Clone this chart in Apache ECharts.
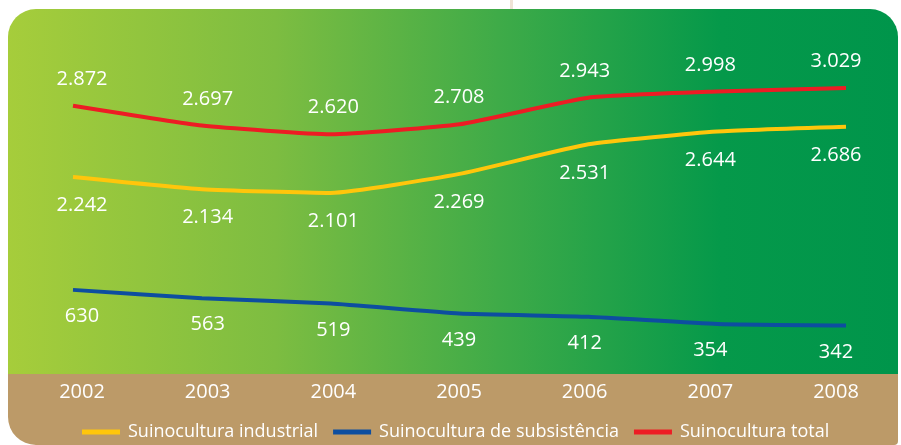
<!DOCTYPE html>
<html>
<head>
<meta charset="utf-8">
<script src="https://cdn.jsdelivr.net/npm/echarts@6/dist/echarts.min.js"></script>
<style>
  html, body { margin: 0; padding: 0; background: #fff; }
  #main { width: 901px; height: 445px; }
</style>
</head>
<body>
<div id="main"></div>
<script>
// dados
var anos = ["2002", "2003", "2004", "2005", "2006", "2007", "2008"];
var industrial = [2242, 2134, 2101, 2269, 2531, 2644, 2686];
var subsistencia = [630, 563, 519, 439, 412, 354, 342];
var total = [2872, 2697, 2620, 2708, 2943, 2998, 3029];

var FONT = "'Open Sans', 'Noto Sans', sans-serif";

// linhas: x de 73 a 846 ; rotulos dos anos: x de 82 a 836
var lineLeft = 73, lineRight = 846;
var labLeft = 82, labRight = 836;

function fmt(v) {
  if (v >= 1000) {
    return Math.floor(v / 1000) + "." + String(v % 1000).padStart(3, "0");
  }
  return String(v);
}

// empurra cada rotulo de valor para ficar alinhado com o ano
function withNudge(arr) {
  var n = arr.length - 1;
  return arr.map(function (v, i) {
    var lx = labLeft + (labRight - labLeft) * i / n;
    var px = lineLeft + (lineRight - lineLeft) * i / n;
    return { value: v, label: { offset: [lx - px, 0] } };
  });
}

var myChart = echarts.init(document.getElementById("main"));

function serie(name, color, data, pos, yIdx, dist) {
  return {
    name: name,
    type: "line",
    xAxisIndex: 0,
    yAxisIndex: yIdx,
    data: withNudge(data),
    smooth: 0.15,
    symbol: "circle",
    symbolSize: 1,
    showSymbol: true,
    lineStyle: { color: color, width: 4 },
    itemStyle: { color: "transparent", borderWidth: 0 },
    label: {
      show: true,
      position: pos,
      distance: dist,
      color: "#fff",
      fontFamily: FONT,
      fontSize: 20,
      formatter: function (p) { return fmt(p.value); }
    }
  };
}

var option = {
  animation: false,
  graphic: [
    {
      type: "rect",
      shape: { x: 8, y: 373, width: 890, height: 72, r: [0, 0, 4, 28] },
      style: { fill: "#BC9A68" },
      silent: true
    },
    {
      type: "rect",
      shape: { x: 8, y: 9, width: 890, height: 365, r: [28, 28, 0, 0] },
      style: {
        fill: new echarts.graphic.LinearGradient(0, 0, 1, 0, [
          { offset: 0, color: "#A6CD3B" },
          { offset: 0.3, color: "#7DBD41" },
          { offset: 0.55, color: "#3FAB48" },
          { offset: 0.8, color: "#05994A" },
          { offset: 1, color: "#00954B" }
        ])
      },
      silent: true
    },
    {
      type: "line",
      shape: { x1: 511.5, y1: 0, x2: 511.5, y2: 9 },
      style: { stroke: "#efe3d6", lineWidth: 3 },
      silent: true
    }
  ],
  grid: [
    { left: lineLeft, right: 901 - lineRight, top: 12.2, bottom: 445 - 373.8 },
    { left: labLeft, right: 901 - labRight, top: 12.2, bottom: 445 - 373.8 }
  ],
  legend: {
    left: 77,
    top: 418,
    icon: "rect",
    itemWidth: 38,
    itemHeight: 5,
    itemGap: 15,
    textStyle: { color: "#fff", fontFamily: FONT, fontSize: 18, padding: [0, 0, 0, 3] },
    data: [
      { name: "Suinocultura industrial", itemStyle: { color: "#FFC60B" } },
      { name: "Suinocultura de subsistência", itemStyle: { color: "#0D4EA0" } },
      { name: "Suinocultura total", itemStyle: { color: "#ED1C24" } }
    ]
  },
  xAxis: [
    {
      type: "category",
      gridIndex: 0,
      boundaryGap: false,
      data: anos,
      show: false
    },
    {
      type: "category",
      gridIndex: 1,
      boundaryGap: false,
      data: anos,
      axisLine: { show: false },
      axisTick: { show: false },
      axisLabel: {
        color: "#fff",
        fontFamily: FONT,
        fontSize: 20,
        margin: 8
      }
    }
  ],
  yAxis: [
    { type: "value", gridIndex: 0, min: 500, max: 3700, show: false },
    { type: "value", gridIndex: 0, min: -50, max: 2880, show: false },
    { type: "value", gridIndex: 1, show: false }
  ],
  series: [
    serie("Suinocultura industrial", "#FFC60B", industrial, "bottom", 0, 18),
    serie("Suinocultura de subsistência", "#0D4EA0", subsistencia, "bottom", 1, 16),
    serie("Suinocultura total", "#ED1C24", total, "top", 0, 16)
  ]
};

option && myChart.setOption(option);
</script>
</body>
</html>
